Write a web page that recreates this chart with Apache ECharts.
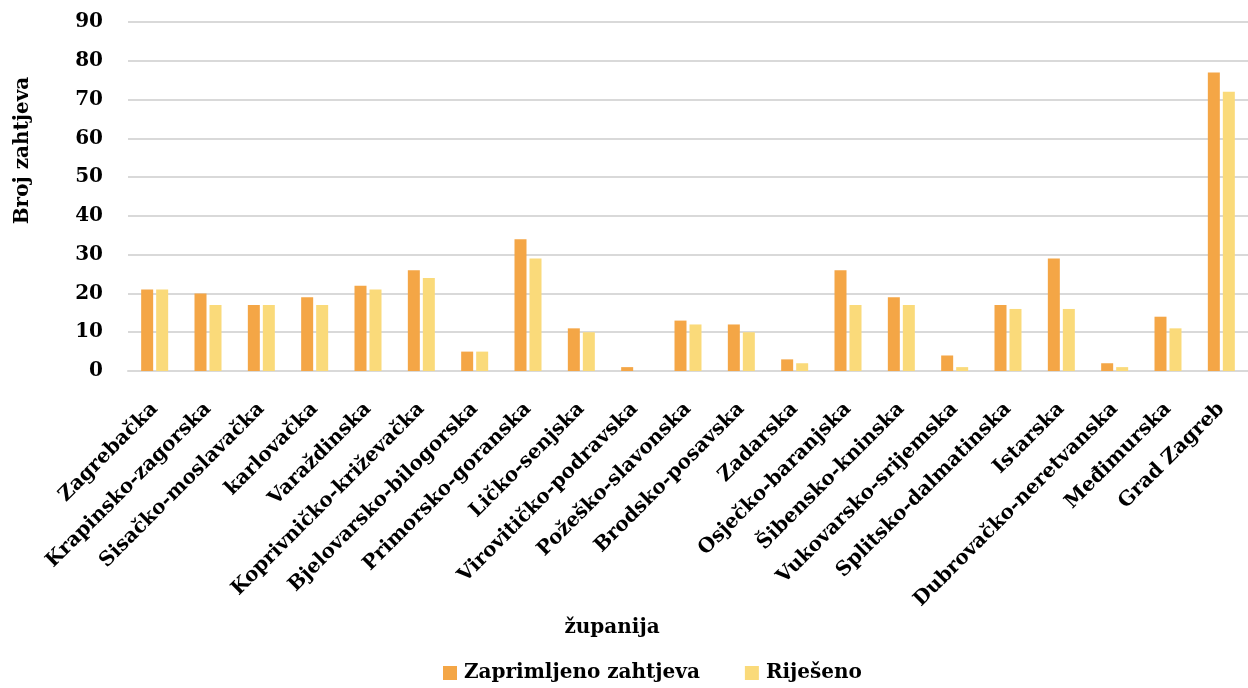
<!DOCTYPE html>
<html>
<head>
<meta charset="utf-8">
<script src="https://cdn.jsdelivr.net/npm/echarts@6/dist/echarts.min.js"></script>
<style>html,body{margin:0;padding:0;background:#fff}#c{width:1248px;height:688px}</style>
</head>
<body>
<div id="c"></div>
<script>
const categories = ["Zagrebačka","Krapinsko-zagorska","Sisačko-moslavačka","karlovačka","Varaždinska","Koprivničko-križevačka","Bjelovarsko-bilogorska","Primorsko-goranska","Ličko-senjska","Virovitičko-podravska","Požeško-slavonska","Brodsko-posavska","Zadarska","Osječko-baranjska","Šibensko-kninska","Vukovarsko-srijemska","Splitsko-dalmatinska","Istarska","Dubrovačko-neretvanska","Međimurska","Grad Zagreb"];
const zaprimljeno = [21,20,17,19,22,26,5,34,11,1,13,12,3,26,19,4,17,29,2,14,77];
const rijeseno = [21,17,17,17,21,24,5,29,10,0,12,10,2,17,17,1,16,16,1,11,72];
const yTicks = {min:0, max:90, interval:10};

const FONT = "'DejaVu Serif', 'Liberation Serif', serif";
const chart = echarts.init(document.getElementById('c'), null, {renderer:'canvas'});
chart.setOption({
  animation:false,
  textStyle:{fontFamily:FONT},
  grid:{left:128, right:0, top:22, bottom:317, containLabel:false},
  legend:{
    bottom:0, left:438, itemWidth:14, itemHeight:14, itemGap:45,
    icon:'rect',
    textStyle:{fontFamily:FONT, fontWeight:'bold', fontSize:20, color:'#000', padding:[0,0,0,2]},
    data:['Zaprimljeno zahtjeva','Riješeno']
  },
  xAxis:{
    type:'category', data:categories,
    name:'županija', nameLocation:'middle', nameGap:243,
    nameTextStyle:{fontFamily:FONT, fontWeight:'bold', fontSize:20, color:'#000', padding:[0,152,0,0]},
    axisLine:{lineStyle:{color:'#D9D9D9', width:2}},
    axisTick:{show:false},
    axisLabel:{rotate:45, interval:0, margin:35, fontFamily:FONT, fontWeight:'bold', fontSize:20, color:'#000'}
  },
  yAxis:{
    type:'value', min:yTicks.min, max:yTicks.max, interval:yTicks.interval,
    name:'Broj zahtjeva', nameLocation:'middle', nameGap:95,
    nameTextStyle:{fontFamily:FONT, fontWeight:'bold', fontSize:20, color:'#000', padding:[0,0,0,92]},
    axisLine:{show:false}, axisTick:{show:false},
    splitLine:{lineStyle:{color:'#D9D9D9', width:2}},
    axisLabel:{margin:25, fontFamily:FONT, fontWeight:'bold', fontSize:20, color:'#000'}
  },
  series:[
    {name:'Zaprimljeno zahtjeva', type:'bar', data:zaprimljeno, barWidth:12, barGap:'25%',
     itemStyle:{color:'#F4A646'}},
    {name:'Riješeno', type:'bar', data:rijeseno, barWidth:12, barGap:'25%',
     itemStyle:{color:'#FADA7A'}}
  ]
});
</script>
</body>
</html>
